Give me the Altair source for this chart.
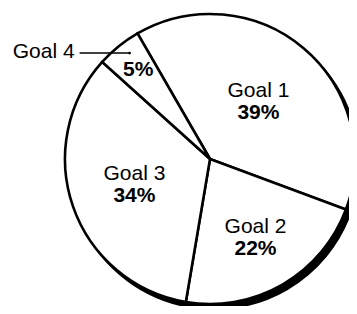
import math
import altair as alt
import pandas as pd

goals = ["Goal 1", "Goal 2", "Goal 3", "Goal 4"]
shares = [39, 22, 34, 5]
pct_labels = ["39%", "22%", "34%", "5%"]

df = pd.DataFrame({"goal": goals, "value": shares, "pct": pct_labels,
                   "order": list(range(len(goals)))})

CX, CY, R = 202, 151, 145
START = -30 * math.pi / 180
FONT = "Liberation Sans"
FS = 21
FSB = 21

theta = alt.Theta("value:Q", stack=True,
                  scale=alt.Scale(range=[START, START + 2 * math.pi]))
order = alt.Order("order:Q")
base = alt.Chart(df)

shadow = base.mark_arc(fill="black", stroke="black", strokeWidth=2).encode(
    theta=theta, order=order, x=alt.value(CX + 4), y=alt.value(CY + 5),
    radius=alt.value(R))

pie = base.mark_arc(fill="white", stroke="black", strokeWidth=2.6).encode(
    theta=theta, order=order, x=alt.value(CX), y=alt.value(CY),
    radius=alt.value(R))

# label anchor radius inside each slice
lab_r = ("datum.goal == 'Goal 1' ? 75 : datum.goal == 'Goal 2' ? 91 : "
         "datum.goal == 'Goal 3' ? 80 : 114")

# angles of every slice, computed from the data
polar = base.transform_joinaggregate(total="sum(value)").transform_window(
    cum="sum(value)", sort=[alt.SortField("order")], frame=[None, 0]
).transform_calculate(
    mid=f"{START} + 2*PI*(datum.cum - datum.value/2)/datum.total",
    pin=f"{START} + 2*PI*(datum.cum - datum.value*0.4)/datum.total",
    lr=lab_r,
).transform_calculate(
    lx=f"{CX} + datum.lr*sin(datum.mid)",
    ly=f"{CY} - datum.lr*cos(datum.mid)",
    ex=f"{CX} + 133*sin(datum.pin)",
    ey=f"{CY} - 133*cos(datum.pin)",
).transform_calculate(
    sx="datum.ex - 50",
    tx="datum.ex - 55",
)

big = polar.transform_filter("datum.goal != 'Goal 4'")
small_df = polar.transform_filter("datum.goal == 'Goal 4'")

pos = dict(x=alt.X("lx:Q", scale=None), y=alt.Y("ly:Q", scale=None))

names = big.mark_text(font=FONT, fontSize=FS, dy=-11, color="black").encode(
    text="goal:N", **pos)
pcts = big.mark_text(font=FONT, fontSize=FSB, fontWeight="bold", dy=11,
                     color="black").encode(text="pct:N", **pos)
small = small_df.mark_text(font=FONT, fontSize=FSB, fontWeight="bold",
                           color="black").encode(text="pct:N", **pos)

leader = small_df.mark_rule(color="black", strokeWidth=1.5).encode(
    x=alt.X("sx:Q", scale=None), x2="ex:Q", y=alt.Y("ey:Q", scale=None))
tip = small_df.mark_point(filled=True, color="black", size=8, opacity=1).encode(
    x=alt.X("ex:Q", scale=None), y=alt.Y("ey:Q", scale=None))
out_label = small_df.mark_text(font=FONT, fontSize=FS, align="right",
                               baseline="middle", dy=-1, color="black").encode(
    x=alt.X("tx:Q", scale=None), y=alt.Y("ey:Q", scale=None), text="goal:N")

chart = alt.layer(shadow, pie, names, pcts, small, leader, tip, out_label).properties(
    width=341, height=298, padding=0,
    autosize=alt.AutoSizeParams(type="none"),
).configure_view(stroke=None)

chart.save("out.html", embed_options={"renderer": "svg", "actions": False})
